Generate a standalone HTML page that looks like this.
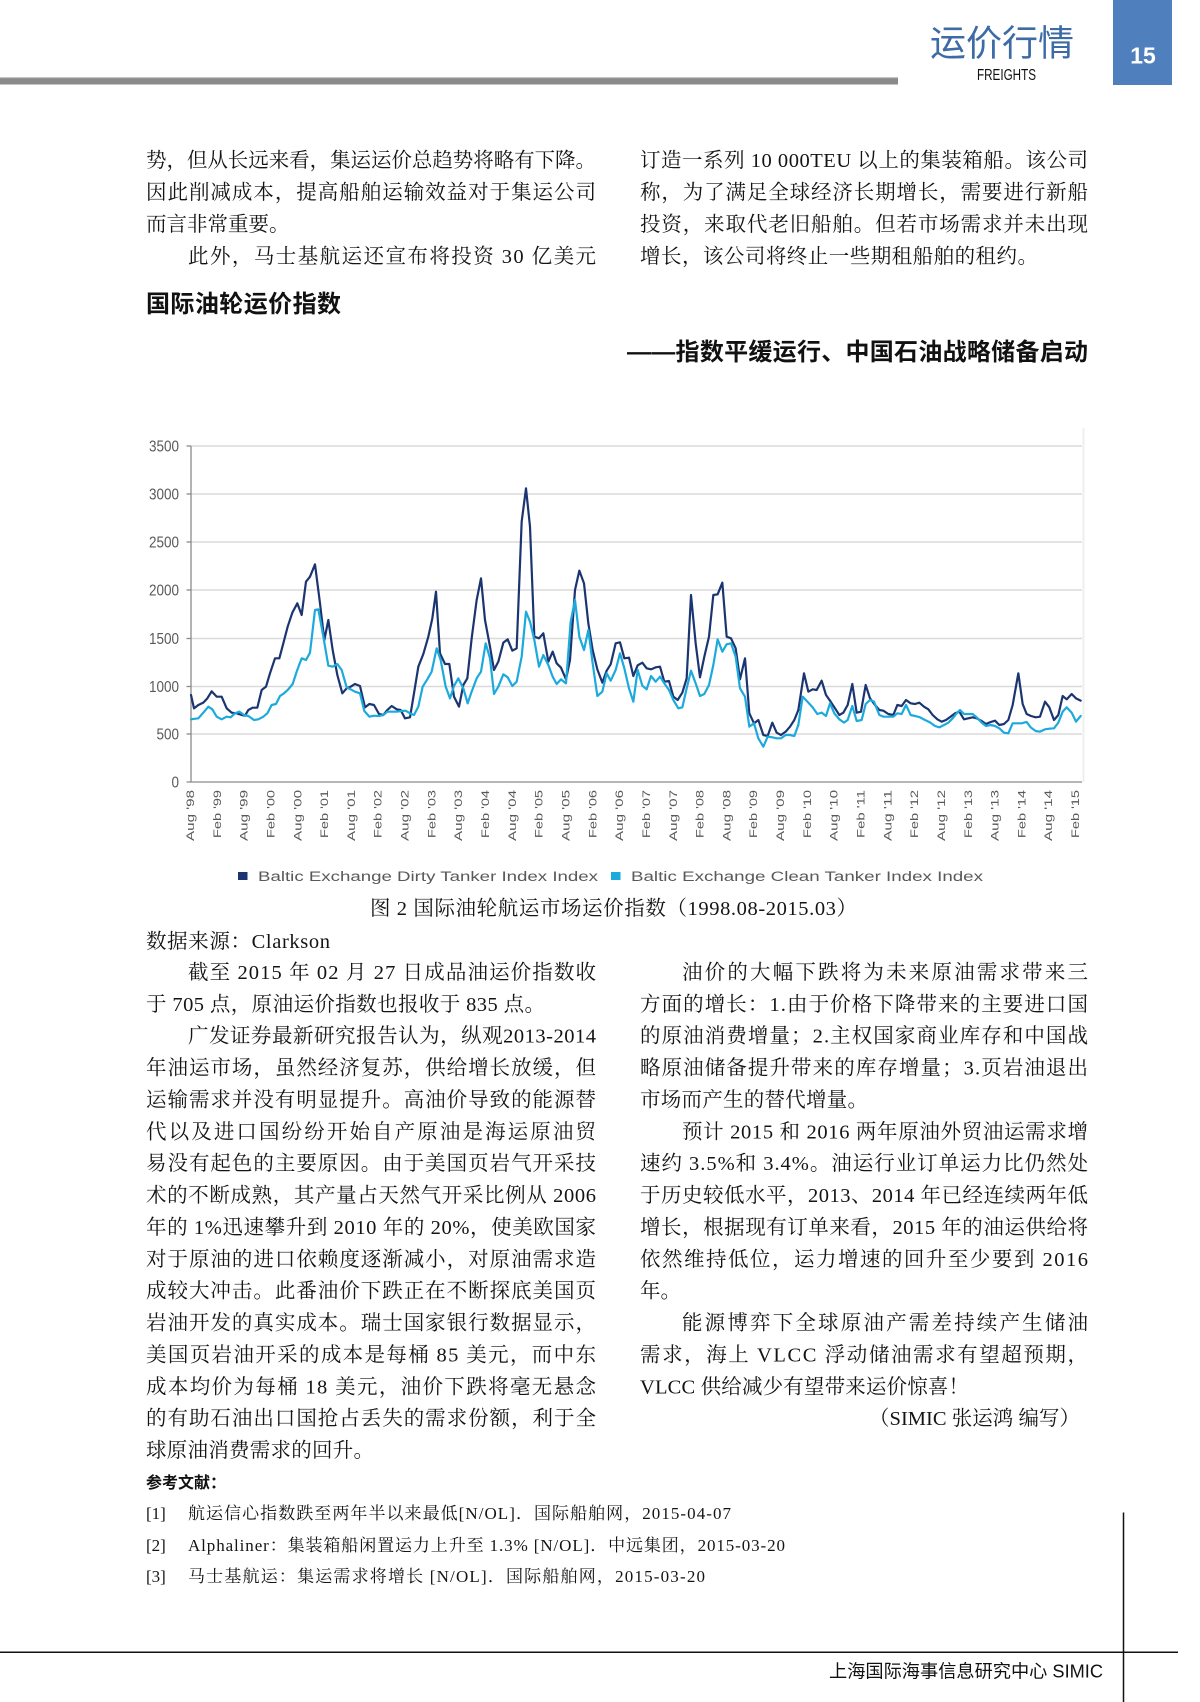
<!DOCTYPE html>
<html><head><meta charset="utf-8"><style>
html,body{margin:0;padding:0;background:#fff;}
svg{display:block;}
.b{font-family:"Liberation Serif","Noto Serif CJK SC",serif;font-size:20.5px;fill:#141414;}
.r{font-family:"Liberation Serif","Noto Serif CJK SC",serif;font-size:17px;fill:#141414;}
.h{font-family:"Liberation Sans","Noto Sans CJK SC",sans-serif;font-weight:bold;fill:#111;}
.ax{font-family:"Liberation Sans",Arial,sans-serif;fill:#595959;}
</style></head><body>
<svg width="1200" height="1702" viewBox="0 0 1200 1702" xmlns="http://www.w3.org/2000/svg">
<rect width="1200" height="1702" fill="#fff"/>
<!-- header -->
<rect x="0" y="77.5" width="898" height="7" fill="#8a8a8a"/>
<rect x="0" y="77" width="898" height="1.2" fill="#c4c4c4"/>
<text x="930" y="55.5" font-family="'Liberation Sans','Noto Sans CJK SC',sans-serif" font-size="36" fill="#3c6ba5" textLength="144" lengthAdjust="spacingAndGlyphs">运价行情</text>
<text x="977" y="80" font-family="'Liberation Sans',sans-serif" font-size="16" fill="#111" textLength="59" lengthAdjust="spacingAndGlyphs">FREIGHTS</text>
<rect x="1113" y="0" width="59" height="85" fill="#4f80bd"/>
<text x="1143" y="63.5" text-anchor="middle" font-family="'Liberation Sans',sans-serif" font-weight="bold" font-size="23" fill="#fff">15</text>

<!-- top text -->
<text class="b" x="146" y="167" textLength="450">势，但从长远来看，集运运价总趋势将略有下降。</text>
<text class="b" x="146" y="199" textLength="450">因此削减成本，提高船舶运输效益对于集运公司</text>
<text class="b" x="146" y="231">而言非常重要。</text>
<text class="b" x="188" y="263" textLength="408">此外，马士基航运还宣布将投资 30 亿美元</text>
<text class="b" x="640" y="167" textLength="448">订造一系列 10 000TEU 以上的集装箱船。该公司</text>
<text class="b" x="640" y="199" textLength="448">称，为了满足全球经济长期增长，需要进行新船</text>
<text class="b" x="640" y="231" textLength="448">投资，来取代老旧船舶。但若市场需求并未出现</text>
<text class="b" x="640" y="263" textLength="398">增长，该公司将终止一些期租船舶的租约。</text>

<text class="h" x="146" y="312" font-size="24" textLength="195">国际油轮运价指数</text>
<text class="h" x="627" y="360" font-size="24" textLength="461">——指数平缓运行、中国石油战略储备启动</text>

<!-- chart -->
<g stroke="#dadada" stroke-width="1.6">
<line x1="191" y1="446" x2="1082" y2="446"/>
<line x1="191" y1="494" x2="1082" y2="494"/>
<line x1="191" y1="542" x2="1082" y2="542"/>
<line x1="191" y1="590" x2="1082" y2="590"/>
<line x1="191" y1="638.5" x2="1082" y2="638.5"/>
<line x1="191" y1="686.5" x2="1082" y2="686.5"/>
<line x1="191" y1="734" x2="1082" y2="734"/>
</g>
<line x1="1083.5" y1="428" x2="1083.5" y2="782" stroke="#efefef" stroke-width="2"/>
<g stroke="#8a8a8a" stroke-width="1.3">
<line x1="191" y1="446" x2="191" y2="782"/>
<line x1="186.5" y1="782" x2="1082" y2="782"/>
<line x1="186.5" y1="446" x2="191" y2="446"/>
<line x1="186.5" y1="494" x2="191" y2="494"/>
<line x1="186.5" y1="542" x2="191" y2="542"/>
<line x1="186.5" y1="590" x2="191" y2="590"/>
<line x1="186.5" y1="638.5" x2="191" y2="638.5"/>
<line x1="186.5" y1="686.5" x2="191" y2="686.5"/>
<line x1="186.5" y1="734" x2="191" y2="734"/>
</g>
<g class="ax" font-size="16" text-anchor="end">
<text x="179" y="451.7" textLength="30" lengthAdjust="spacingAndGlyphs">3500</text>
<text x="179" y="499.7" textLength="30" lengthAdjust="spacingAndGlyphs">3000</text>
<text x="179" y="547.7" textLength="30" lengthAdjust="spacingAndGlyphs">2500</text>
<text x="179" y="595.7" textLength="30" lengthAdjust="spacingAndGlyphs">2000</text>
<text x="179" y="644.2" textLength="30" lengthAdjust="spacingAndGlyphs">1500</text>
<text x="179" y="692.2" textLength="30" lengthAdjust="spacingAndGlyphs">1000</text>
<text x="179" y="739.7" textLength="22.5" lengthAdjust="spacingAndGlyphs">500</text>
<text x="179" y="787.7" textLength="7.5" lengthAdjust="spacingAndGlyphs">0</text>
</g>
<g class="ax" font-size="14" text-anchor="end">
<text transform="translate(194.0,790) rotate(-90) scale(1,0.8)" textLength="51" lengthAdjust="spacingAndGlyphs">Aug '98</text>
<text transform="translate(220.8,790) rotate(-90) scale(1,0.8)" textLength="48" lengthAdjust="spacingAndGlyphs">Feb '99</text>
<text transform="translate(247.6,790) rotate(-90) scale(1,0.8)" textLength="51" lengthAdjust="spacingAndGlyphs">Aug '99</text>
<text transform="translate(274.5,790) rotate(-90) scale(1,0.8)" textLength="48" lengthAdjust="spacingAndGlyphs">Feb '00</text>
<text transform="translate(301.3,790) rotate(-90) scale(1,0.8)" textLength="51" lengthAdjust="spacingAndGlyphs">Aug '00</text>
<text transform="translate(328.1,790) rotate(-90) scale(1,0.8)" textLength="48" lengthAdjust="spacingAndGlyphs">Feb '01</text>
<text transform="translate(354.9,790) rotate(-90) scale(1,0.8)" textLength="51" lengthAdjust="spacingAndGlyphs">Aug '01</text>
<text transform="translate(381.7,790) rotate(-90) scale(1,0.8)" textLength="48" lengthAdjust="spacingAndGlyphs">Feb '02</text>
<text transform="translate(408.6,790) rotate(-90) scale(1,0.8)" textLength="51" lengthAdjust="spacingAndGlyphs">Aug '02</text>
<text transform="translate(435.4,790) rotate(-90) scale(1,0.8)" textLength="48" lengthAdjust="spacingAndGlyphs">Feb '03</text>
<text transform="translate(462.2,790) rotate(-90) scale(1,0.8)" textLength="51" lengthAdjust="spacingAndGlyphs">Aug '03</text>
<text transform="translate(489.0,790) rotate(-90) scale(1,0.8)" textLength="48" lengthAdjust="spacingAndGlyphs">Feb '04</text>
<text transform="translate(515.8,790) rotate(-90) scale(1,0.8)" textLength="51" lengthAdjust="spacingAndGlyphs">Aug '04</text>
<text transform="translate(542.7,790) rotate(-90) scale(1,0.8)" textLength="48" lengthAdjust="spacingAndGlyphs">Feb '05</text>
<text transform="translate(569.5,790) rotate(-90) scale(1,0.8)" textLength="51" lengthAdjust="spacingAndGlyphs">Aug '05</text>
<text transform="translate(596.3,790) rotate(-90) scale(1,0.8)" textLength="48" lengthAdjust="spacingAndGlyphs">Feb '06</text>
<text transform="translate(623.1,790) rotate(-90) scale(1,0.8)" textLength="51" lengthAdjust="spacingAndGlyphs">Aug '06</text>
<text transform="translate(649.9,790) rotate(-90) scale(1,0.8)" textLength="48" lengthAdjust="spacingAndGlyphs">Feb '07</text>
<text transform="translate(676.8,790) rotate(-90) scale(1,0.8)" textLength="51" lengthAdjust="spacingAndGlyphs">Aug '07</text>
<text transform="translate(703.6,790) rotate(-90) scale(1,0.8)" textLength="48" lengthAdjust="spacingAndGlyphs">Feb '08</text>
<text transform="translate(730.4,790) rotate(-90) scale(1,0.8)" textLength="51" lengthAdjust="spacingAndGlyphs">Aug '08</text>
<text transform="translate(757.2,790) rotate(-90) scale(1,0.8)" textLength="48" lengthAdjust="spacingAndGlyphs">Feb '09</text>
<text transform="translate(784.0,790) rotate(-90) scale(1,0.8)" textLength="51" lengthAdjust="spacingAndGlyphs">Aug '09</text>
<text transform="translate(810.9,790) rotate(-90) scale(1,0.8)" textLength="48" lengthAdjust="spacingAndGlyphs">Feb '10</text>
<text transform="translate(837.7,790) rotate(-90) scale(1,0.8)" textLength="51" lengthAdjust="spacingAndGlyphs">Aug '10</text>
<text transform="translate(864.5,790) rotate(-90) scale(1,0.8)" textLength="48" lengthAdjust="spacingAndGlyphs">Feb '11</text>
<text transform="translate(891.3,790) rotate(-90) scale(1,0.8)" textLength="51" lengthAdjust="spacingAndGlyphs">Aug '11</text>
<text transform="translate(918.1,790) rotate(-90) scale(1,0.8)" textLength="48" lengthAdjust="spacingAndGlyphs">Feb '12</text>
<text transform="translate(945.0,790) rotate(-90) scale(1,0.8)" textLength="51" lengthAdjust="spacingAndGlyphs">Aug '12</text>
<text transform="translate(971.8,790) rotate(-90) scale(1,0.8)" textLength="48" lengthAdjust="spacingAndGlyphs">Feb '13</text>
<text transform="translate(998.6,790) rotate(-90) scale(1,0.8)" textLength="51" lengthAdjust="spacingAndGlyphs">Aug '13</text>
<text transform="translate(1025.4,790) rotate(-90) scale(1,0.8)" textLength="48" lengthAdjust="spacingAndGlyphs">Feb '14</text>
<text transform="translate(1052.2,790) rotate(-90) scale(1,0.8)" textLength="51" lengthAdjust="spacingAndGlyphs">Aug '14</text>
<text transform="translate(1079.1,790) rotate(-90) scale(1,0.8)" textLength="48" lengthAdjust="spacingAndGlyphs">Feb '15</text>
</g>

<!-- dirty series -->
<g fill="none" stroke="#1b3571" stroke-width="6.6" stroke-linejoin="round" stroke-linecap="round">
<polyline transform="translate(180,430) scale(0.33333)" points="33,795 42,835 55,825 70,818 82,805 95,784 110,800 125,800 140,835 155,848 170,850 185,855 195,857 205,840 218,833 232,833 245,780 258,770 270,730 285,685 298,685 310,640 323,590 337,548 352,520 365,555 378,455 390,440 405,403 420,520 433,630 445,570 458,660 472,735 487,790 500,775 512,770 525,762 540,768 555,832 568,822 582,825 597,852 610,855 622,840 635,828 650,838 662,840 675,865 690,862 702,790 715,710 730,672 745,620 757,565 768,485 780,670 795,702 808,702 822,800 837,830 850,765 862,745 875,625 890,510 903,445 915,570 930,650"/>
<polyline transform="translate(490,430) scale(0.33333)" points="0,650 12,720 25,695 40,638 53,628 67,662 80,655 95,275 108,175 120,290 133,620 147,625 160,610 175,695 188,665 200,700 213,713 228,748 240,690 255,480 268,422 282,460 295,580 308,660 322,718 337,758 350,722 362,703 377,640 390,637 403,685 417,683 430,738 443,706 457,698 470,715 483,718 497,712 510,710 523,755 537,753 550,800 563,810 577,788 590,745 603,495 617,640 630,742 643,680 657,620 670,495 683,493 697,458 710,620 723,625 737,655 750,748 765,685 778,850 792,880 805,870 820,915 833,918 847,878 860,908 873,915 887,905 900,890 913,870 925,840"/>
<polyline transform="translate(800,430) scale(0.33333)" points="-5,840 12,730 25,785 38,778 50,780 65,752 78,795 92,815 105,835 118,855 130,848 143,825 157,762 170,848 183,845 197,765 210,805 225,825 238,840 250,842 265,852 280,855 292,825 305,828 318,810 332,820 345,822 358,818 372,830 385,838 398,855 412,868 425,875 438,870 452,860 465,850 478,845 492,868 505,865 518,862 530,865 545,873 558,882 572,876 585,872 598,885 612,882 625,870 638,825 655,730 668,822 680,852 693,858 707,862 720,860 735,815 748,832 762,870 775,855 788,798 800,808 815,792 828,805 842,812"/>
</g>
<!-- clean series -->
<g fill="none" stroke="#1caadd" stroke-width="6.6" stroke-linejoin="round" stroke-linecap="round">
<polyline transform="translate(180,430) scale(0.33333)" points="33,868 55,865 70,848 85,830 97,838 110,860 125,868 140,860 152,862 165,850 178,845 192,855 205,858 222,870 235,868 250,860 262,850 275,825 288,822 300,798 312,790 325,778 338,762 350,725 365,685 378,690 390,668 405,540 415,538 430,620 445,707 458,710 472,702 485,720 500,772 512,778 525,785 540,790 553,843 568,860 582,857 597,858 610,855 622,845 637,845 650,845 665,843 677,842 690,850 702,855 715,830 728,770 742,748 755,725 770,655 782,690 797,770 810,805 822,768 835,745 850,775 863,820 875,785 890,745 903,725 917,640 930,685"/>
<polyline transform="translate(490,430) scale(0.33333)" points="0,685 12,792 25,770 40,733 53,742 67,768 80,755 95,680 108,545 120,575 133,630 147,710 160,675 175,705 188,740 200,762 213,748 228,760 242,575 255,510 268,620 282,660 295,600 308,700 322,798 337,785 350,730 362,752 377,720 390,670 403,715 417,775 430,815 443,720 457,767 470,778 483,738 497,755 510,740 523,760 537,780 550,810 565,835 577,832 590,775 603,722 617,760 630,798 643,792 657,765 670,705 683,628 697,665 710,643 723,640 737,680 750,775 765,800 778,890 792,880 805,925 820,950 833,920 847,922 860,925 873,925 887,915 900,915 913,918 925,885"/>
<polyline transform="translate(800,430) scale(0.33333)" points="-5,885 8,800 25,818 38,832 52,852 65,848 78,858 90,820 103,850 118,868 132,878 143,870 157,828 170,873 185,870 197,822 210,810 222,815 238,855 250,860 265,860 280,860 292,850 305,852 318,825 332,855 345,858 360,862 375,870 390,877 405,888 418,892 432,885 445,878 458,865 470,850 480,840 492,852 505,852 518,852 530,862 545,878 558,888 572,885 585,888 598,895 612,908 625,910 638,880 652,880 665,880 680,876 693,893 707,903 720,905 735,898 748,896 762,895 775,878 788,845 800,832 815,848 828,875 842,858"/>
</g>

<!-- legend -->
<rect x="238" y="872" width="9.5" height="8" fill="#1b3571"/>
<text class="ax" x="258" y="881" font-size="13.5" textLength="340" lengthAdjust="spacingAndGlyphs">Baltic Exchange Dirty Tanker Index Index</text>
<rect x="611" y="872" width="9.5" height="8" fill="#1caadd"/>
<text class="ax" x="631" y="881" font-size="13.5" textLength="352" lengthAdjust="spacingAndGlyphs">Baltic Exchange Clean Tanker Index Index</text>

<text class="b" x="370" y="915" font-size="19" textLength="487">图 2 国际油轮航运市场运价指数（1998.08-2015.03）</text>
<text class="b" x="146" y="948" textLength="184">数据来源：Clarkson</text>

<!-- lower left column -->
<text class="b" x="188" y="979" textLength="408">截至 2015 年 02 月 27 日成品油运价指数收</text>
<text class="b" x="146" y="1010.9" textLength="399">于 705 点，原油运价指数也报收于 835 点。</text>
<text class="b" x="188" y="1042.7" textLength="408">广发证券最新研究报告认为，纵观2013-2014</text>
<text class="b" x="146" y="1074.6" textLength="450">年油运市场，虽然经济复苏，供给增长放缓，但</text>
<text class="b" x="146" y="1106.5" textLength="450">运输需求并没有明显提升。高油价导致的能源替</text>
<text class="b" x="146" y="1138.4" textLength="450">代以及进口国纷纷开始自产原油是海运原油贸</text>
<text class="b" x="146" y="1170.2" textLength="450">易没有起色的主要原因。由于美国页岩气开采技</text>
<text class="b" x="146" y="1202.1" textLength="450">术的不断成熟，其产量占天然气开采比例从 2006</text>
<text class="b" x="146" y="1234" textLength="450">年的 1%迅速攀升到 2010 年的 20%，使美欧国家</text>
<text class="b" x="146" y="1265.8" textLength="450">对于原油的进口依赖度逐渐减小，对原油需求造</text>
<text class="b" x="146" y="1297.7" textLength="450">成较大冲击。此番油价下跌正在不断探底美国页</text>
<text class="b" x="146" y="1329.6" textLength="450">岩油开发的真实成本。瑞士国家银行数据显示，</text>
<text class="b" x="146" y="1361.4" textLength="450">美国页岩油开采的成本是每桶 85 美元，而中东</text>
<text class="b" x="146" y="1393.3" textLength="450">成本均价为每桶 18 美元，油价下跌将毫无悬念</text>
<text class="b" x="146" y="1425.2" textLength="450">的有助石油出口国抢占丢失的需求份额，利于全</text>
<text class="b" x="146" y="1457" textLength="228">球原油消费需求的回升。</text>

<!-- lower right column -->
<text class="b" x="682" y="979" textLength="406">油价的大幅下跌将为未来原油需求带来三</text>
<text class="b" x="640" y="1010.9" textLength="448">方面的增长：1.由于价格下降带来的主要进口国</text>
<text class="b" x="640" y="1042.7" textLength="448">的原油消费增量；2.主权国家商业库存和中国战</text>
<text class="b" x="640" y="1074.6" textLength="448">略原油储备提升带来的库存增量；3.页岩油退出</text>
<text class="b" x="640" y="1106.5" textLength="228">市场而产生的替代增量。</text>
<text class="b" x="682" y="1138.4" textLength="406">预计 2015 和 2016 两年原油外贸油运需求增</text>
<text class="b" x="640" y="1170.2" textLength="448">速约 3.5%和 3.4%。油运行业订单运力比仍然处</text>
<text class="b" x="640" y="1202.1" textLength="448">于历史较低水平，2013、2014 年已经连续两年低</text>
<text class="b" x="640" y="1234" textLength="448">增长，根据现有订单来看，2015 年的油运供给将</text>
<text class="b" x="640" y="1265.8" textLength="448">依然维持低位，运力增速的回升至少要到 2016</text>
<text class="b" x="640" y="1297.7">年。</text>
<text class="b" x="682" y="1329.6" textLength="406">能源博弈下全球原油产需差持续产生储油</text>
<text class="b" x="640" y="1361.4" textLength="448">需求，海上 VLCC 浮动储油需求有望超预期，</text>
<text class="b" x="640" y="1393.3" textLength="329">VLCC 供给减少有望带来运价惊喜！</text>
<text class="b" x="869" y="1425.2" textLength="211">（SIMIC 张运鸿 编写）</text>

<!-- references -->
<text class="h" x="146" y="1488" font-size="16" textLength="80">参考文献：</text>
<text class="r" x="146" y="1519">[1]</text>
<text class="r" x="188" y="1519" textLength="543">航运信心指数跌至两年半以来最低[N/OL]．国际船舶网，2015-04-07</text>
<text class="r" x="146" y="1551">[2]</text>
<text class="r" x="188" y="1551" textLength="597">Alphaliner：集装箱船闲置运力上升至 1.3% [N/OL]．中远集团，2015-03-20</text>
<text class="r" x="146" y="1582">[3]</text>
<text class="r" x="188" y="1582" textLength="517">马士基航运：集运需求将增长 [N/OL]．国际船舶网，2015-03-20</text>

<!-- footer -->
<line x1="0" y1="1652.3" x2="1178" y2="1652.3" stroke="#111" stroke-width="1.5"/>
<line x1="1123.5" y1="1512.5" x2="1123.5" y2="1702" stroke="#111" stroke-width="1.5"/>
<text x="829" y="1677.5" font-family="'Liberation Sans','Noto Sans CJK SC',sans-serif" font-size="18" fill="#111" textLength="274" lengthAdjust="spacingAndGlyphs">上海国际海事信息研究中心 SIMIC</text>
</svg>
</body></html>
